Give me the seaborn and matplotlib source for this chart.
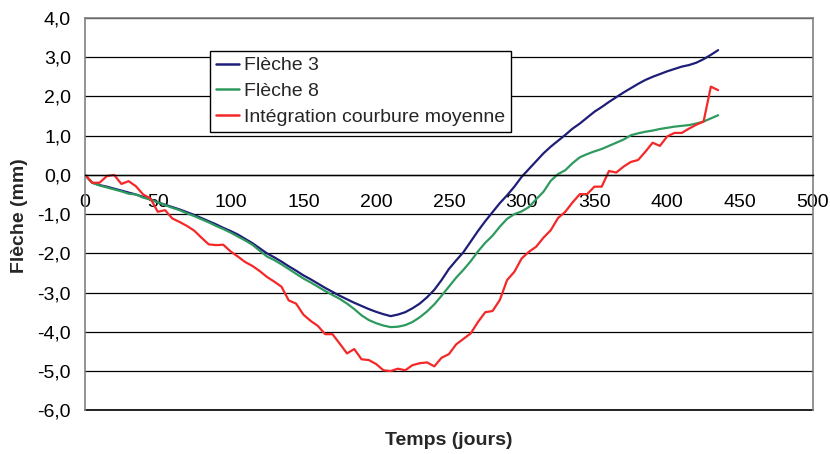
import matplotlib
matplotlib.use("Agg")
import matplotlib.pyplot as plt
import seaborn as sns
import pandas as pd
from matplotlib.ticker import FuncFormatter
from matplotlib.lines import Line2D

# ---------------- data ----------------
days = list(range(0, 440, 5))

fleche3 = [0.00, -0.20, -0.26, -0.30, -0.35, -0.40, -0.45, -0.50, -0.56, -0.62,
           -0.70, -0.76, -0.82, -0.88, -0.95, -1.02, -1.10, -1.18, -1.26, -1.35,
           -1.43, -1.52, -1.63, -1.74, -1.87, -2.00, -2.10, -2.21, -2.33, -2.44,
           -2.56, -2.66, -2.77, -2.88, -2.98, -3.08, -3.17, -3.26, -3.34, -3.42,
           -3.49, -3.55, -3.60, -3.56, -3.50, -3.40, -3.28, -3.12, -2.93, -2.68,
           -2.40, -2.18, -1.97, -1.70, -1.43, -1.18, -0.95, -0.72, -0.52, -0.30,
           -0.05, 0.15, 0.35, 0.55, 0.72, 0.87, 1.02, 1.18, 1.31, 1.46,
           1.61, 1.73, 1.86, 1.98, 2.10, 2.21, 2.32, 2.42, 2.50, 2.57,
           2.64, 2.70, 2.76, 2.80, 2.86, 2.95, 3.06, 3.18]

fleche8 = [0.00, -0.20, -0.27, -0.32, -0.37, -0.42, -0.48, -0.50, -0.58, -0.63,
           -0.70, -0.77, -0.84, -0.90, -0.98, -1.05, -1.13, -1.21, -1.30, -1.38,
           -1.47, -1.57, -1.67, -1.78, -1.93, -2.08, -2.17, -2.28, -2.40, -2.52,
           -2.64, -2.74, -2.85, -2.96, -3.06, -3.16, -3.28, -3.42, -3.58, -3.70,
           -3.78, -3.84, -3.88, -3.87, -3.83, -3.75, -3.63, -3.48, -3.30, -3.08,
           -2.85, -2.62, -2.42, -2.20, -1.95, -1.73, -1.55, -1.32, -1.12, -1.00,
           -0.93, -0.82, -0.62, -0.43, -0.15, 0.02, 0.12, 0.30, 0.45, 0.53,
           0.60, 0.66, 0.74, 0.82, 0.90, 1.01, 1.06, 1.10, 1.13, 1.17,
           1.20, 1.23, 1.25, 1.27, 1.31, 1.36, 1.44, 1.52]

integration = [0.00, -0.20, -0.20, -0.03, 0.00, -0.23, -0.16, -0.29, -0.50, -0.60,
               -0.94, -0.90, -1.11, -1.20, -1.30, -1.42, -1.60, -1.77, -1.79, -1.78,
               -1.95, -2.08, -2.22, -2.32, -2.45, -2.60, -2.72, -2.85, -3.20, -3.28,
               -3.56, -3.72, -3.85, -4.06, -4.06, -4.30, -4.55, -4.44, -4.70, -4.72,
               -4.82, -4.98, -5.00, -4.94, -4.98, -4.85, -4.80, -4.78, -4.88, -4.66,
               -4.57, -4.32, -4.18, -4.04, -3.75, -3.50, -3.47, -3.19, -2.68, -2.47,
               -2.13, -1.96, -1.83, -1.60, -1.41, -1.10, -0.94, -0.70, -0.49, -0.49,
               -0.30, -0.30, 0.10, 0.06, 0.21, 0.33, 0.38, 0.59, 0.82, 0.74,
               0.98, 1.07, 1.07, 1.18, 1.28, 1.36, 2.25, 2.16]

series_names = ["Flèche 3", "Flèche 8", "Intégration courbure moyenne"]
series_colors = ["#1E1E78", "#2E9A5E", "#F42828"]

x_ticks = [0, 50, 100, 150, 200, 250, 300, 350, 400, 450, 500]
y_ticks = [-6.0, -5.0, -4.0, -3.0, -2.0, -1.0, 0.0, 1.0, 2.0, 3.0, 4.0]

# ---------------- build table ----------------
df = pd.DataFrame({"Temps": days,
                   series_names[0]: fleche3,
                   series_names[1]: fleche8,
                   series_names[2]: integration})
long = df.melt(id_vars="Temps", var_name="Série", value_name="Flèche")

# ---------------- style ----------------
sns.set_theme(style="white")
plt.rcParams["font.family"] = ["Liberation Sans", "DejaVu Sans"]

fig = plt.figure(figsize=(8.3, 4.54), dpi=100)
ax = fig.add_axes([0.1024, 0.0963, 0.8768, 0.8641])

sns.lineplot(data=long, x="Temps", y="Flèche", hue="Série",
             hue_order=series_names, palette=series_colors,
             linewidth=1.6, ax=ax, legend=False, sort=False)

ax.set_xlim(0, 500)
ax.set_ylim(-6, 4)
ax.set_xticks(x_ticks)
ax.set_yticks(y_ticks)

ax.yaxis.set_major_formatter(FuncFormatter(lambda v, p: f"{v:.1f}".replace(".", ",")))
ax.xaxis.set_major_formatter(FuncFormatter(lambda v, p: f"{int(v)}"))

# horizontal grid lines
ax.yaxis.grid(True, color="black", linewidth=0.9)
ax.xaxis.grid(False)
ax.set_axisbelow(True)
ax.axhline(-6, color="black", linewidth=1.2, clip_on=False, zorder=0.5)

# x axis at y = 0
ax.spines["bottom"].set_position(("data", 0))
ax.spines["bottom"].set_color("black")
ax.spines["bottom"].set_linewidth(1.0)
for s in ["left", "right", "top"]:
    ax.spines[s].set_color("#808080")
    ax.spines[s].set_linewidth(1.2)

ax.tick_params(axis="x", direction="out", length=5, width=1, color="black",
               pad=9, labelsize=14, colors="black")
ax.tick_params(axis="y", direction="out", length=5, width=1, color="black",
               pad=5, labelsize=14, colors="black")

ax.set_xlabel("")
ax.set_ylabel("")
fig.text(0.541, 0.030, "Temps (jours)", ha="center", va="center",
         fontsize=14, fontweight="bold")
fig.text(0.024, 0.526, "Flèche (mm)", ha="center", va="center",
         fontsize=14, fontweight="bold", rotation=90)

# legend
handles = [Line2D([0], [0], color=c, linewidth=1.8) for c in series_colors]
leg = ax.legend(handles, series_names, loc="upper left",
                bbox_to_anchor=(0.1718, 0.9159), borderaxespad=0,
                fontsize=14, frameon=True, fancybox=False, shadow=False,
                handlelength=1.2, handletextpad=0.25, labelspacing=0.42,
                borderpad=0.3)
leg.get_frame().set_edgecolor("black")
leg.get_frame().set_linewidth(1.0)
leg.get_frame().set_facecolor("white")
leg.get_frame().set_alpha(1)

fig.savefig("out.png", dpi=100)
